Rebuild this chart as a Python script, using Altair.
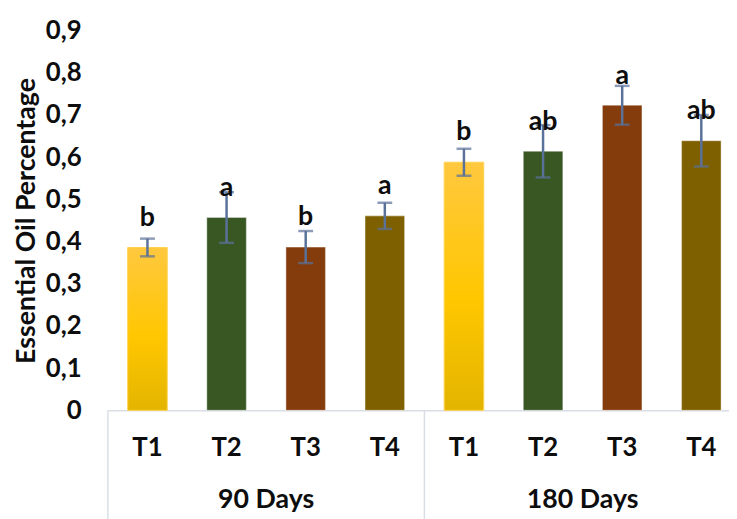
import altair as alt
import pandas as pd

# ---- data ----
group_names = ["90 Days", "180 Days"]
groups = ["90 Days"] * 4 + ["180 Days"] * 4
treatments = ["T1", "T2", "T3", "T4"] * 2
means = [0.386, 0.457, 0.387, 0.461, 0.588, 0.614, 0.723, 0.639]
errors = [0.021, 0.060, 0.038, 0.031, 0.032, 0.062, 0.046, 0.061]
letters = ["b", "a", "b", "a", "b", "ab", "a", "ab"]
y_ticks = [0, 0.1, 0.2, 0.3, 0.4, 0.5, 0.6, 0.7, 0.8, 0.9]

solid_treatments = ["T2", "T3", "T4"]
solid_colors = ["#385723", "#843C0C", "#7F6000"]

FONT = "Lato"
TXT = "#0D0D0D"
LINE = "#D9DEE6"
ERR = "#5A7199"

df = pd.DataFrame({
    "group": groups,
    "treatment": treatments,
    "mean": means,
    "err": errors,
    "letter": letters,
})
df["key"] = df["group"] + "|" + df["treatment"]
df["lo"] = df["mean"] - df["err"]
df["hi"] = df["mean"] + df["err"]
keys = list(df["key"])

sep_df = pd.DataFrame({"key": [g + "|T1" for g in group_names]})
grp_df = pd.DataFrame({"key": [g + "|T2" for g in group_names], "label": group_names})

xscale = alt.Scale(range=[0, 640], paddingInner=0, paddingOuter=0)
xaxis = alt.Axis(
    title=None, labelExpr="split(datum.label, '|')[1]", labelAngle=0,
    ticks=False, tickSize=0, labelPadding=38, labelBaseline="middle",
    labelFont=FONT, labelFontSize=26, labelFontWeight="bold", labelColor=TXT,
    domainColor=LINE, domainWidth=1.5,
)
X = alt.X("key:N", sort=keys, scale=xscale, axis=xaxis)

yaxis = alt.Axis(
    title="Essential Oil Percentage", values=y_ticks,
    labelExpr="datum.value == 0 ? '0' : replace(format(datum.value, '.1f'), '.', ',')",
    grid=False, domain=False, ticks=False, labelPadding=27,
    labelFont=FONT, labelFontSize=26, labelFontWeight="bold", labelColor=TXT,
    titleFont=FONT, titleFontSize=27, titleFontWeight="bold", titleColor=TXT,
    titlePadding=5,
)
Y = alt.Y("mean:Q", scale=alt.Scale(domain=[0, 0.9], nice=False, zero=True), axis=yaxis)

base = alt.Chart(df)

bars_solid = base.transform_filter("datum.treatment != 'T1'").mark_bar(
    size=40, stroke="white", strokeOpacity=0.35, strokeWidth=1.2
).encode(
    x=X, y=Y,
    color=alt.Color("treatment:N", scale=alt.Scale(domain=solid_treatments, range=solid_colors), legend=None),
)

gold = alt.Gradient(
    gradient="linear", x1=0, y1=0, x2=0, y2=1,
    stops=[
        alt.GradientStop(color="#FFC83F", offset=0),
        alt.GradientStop(color="#FFC700", offset=0.55),
        alt.GradientStop(color="#E3B400", offset=1),
    ],
)
bars_gold = base.transform_filter("datum.treatment == 'T1'").mark_bar(
    size=40, color=gold, stroke="#FFD24D", strokeWidth=1
).encode(x=X, y=Y)

err_rule = base.mark_rule(color=ERR, strokeWidth=2.5).encode(
    x=X, y=alt.Y("lo:Q"), y2="hi:Q"
)
cap_lo = base.mark_tick(color=ERR, size=15, thickness=2.5).encode(x=X, y=alt.Y("lo:Q"))
cap_hi = base.mark_tick(color=ERR, size=15, thickness=2.5).encode(x=X, y=alt.Y("hi:Q"))

letter_text = base.mark_text(
    font=FONT, fontSize=27, fontWeight="bold", color=TXT, baseline="middle", dy=-30
).encode(x=X, y=alt.Y("mean:Q"), text="letter:N")

sep_rules = alt.Chart(sep_df).mark_rule(color=LINE, strokeWidth=1.5).encode(
    x=alt.X("key:N", sort=keys, scale=xscale, axis=xaxis, bandPosition=0),
    y=alt.value(384), y2=alt.value(495),
)

grp_text = alt.Chart(grp_df).mark_text(
    font=FONT, fontSize=27, fontWeight="bold", color=TXT, baseline="middle"
).encode(
    x=alt.X("key:N", sort=keys, scale=xscale, axis=xaxis, bandPosition=1),
    y=alt.value(475), text="label:N",
)

chart = alt.layer(
    bars_solid, bars_gold, err_rule, cap_lo, cap_hi, letter_text, sep_rules, grp_text
).properties(
    width=628, height=384,
    autosize=alt.AutoSizeParams(type="none"),
    padding={"left": 101, "top": 20, "right": 0, "bottom": 107},
    background="white",
).configure_view(stroke=None)

chart.save("out.html", embed_options={"renderer": "svg", "actions": False})
